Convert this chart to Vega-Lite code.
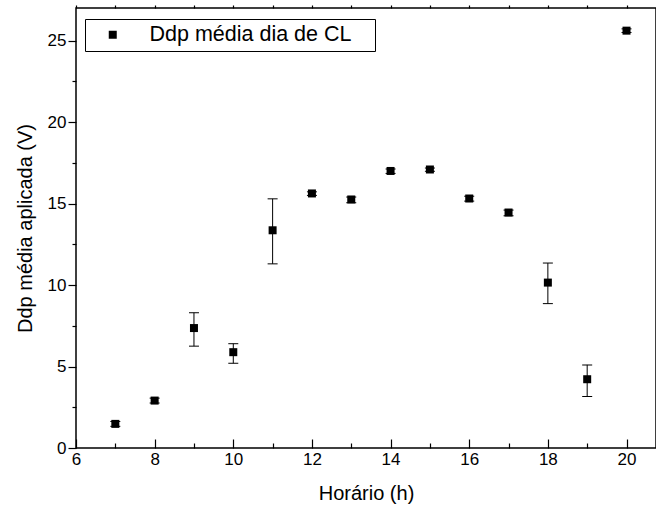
{
  "$schema": "https://vega.github.io/schema/vega-lite/v6.json",
  "width": 580,
  "height": 440,
  "autosize": "none",
  "padding": {"left": 76, "top": 8, "right": 0, "bottom": 68},
  "background": "white",
  "config": {
    "font": "Liberation Sans",
    "view": {"stroke": "black", "strokeWidth": 1.5},
    "axis": {"grid": false, "domain": false, "labelFont": "Liberation Sans", "titleFont": "Liberation Sans", "labelColor": "black", "titleColor": "black", "tickColor": "black", "tickWidth": 1.2, "labelFontSize": 17, "titleFontSize": 20, "titleFontWeight": "normal"}
  },
  "data": {
    "values": [
      {"hour": 7, "v": 1.48, "lo": 1.33, "hi": 1.63, "series": "Ddp média dia de CL"},
      {"hour": 8, "v": 2.91, "lo": 2.76, "hi": 3.06, "series": "Ddp média dia de CL"},
      {"hour": 9, "v": 7.36, "lo": 6.25, "hi": 8.30, "series": "Ddp média dia de CL"},
      {"hour": 10, "v": 5.88, "lo": 5.20, "hi": 6.40, "series": "Ddp média dia de CL"},
      {"hour": 11, "v": 13.36, "lo": 11.30, "hi": 15.29, "series": "Ddp média dia de CL"},
      {"hour": 12, "v": 15.62, "lo": 15.50, "hi": 15.72, "series": "Ddp média dia de CL"},
      {"hour": 13, "v": 15.25, "lo": 15.05, "hi": 15.40, "series": "Ddp média dia de CL"},
      {"hour": 14, "v": 17.00, "lo": 16.85, "hi": 17.12, "series": "Ddp média dia de CL"},
      {"hour": 15, "v": 17.09, "lo": 16.98, "hi": 17.18, "series": "Ddp média dia de CL"},
      {"hour": 16, "v": 15.31, "lo": 15.15, "hi": 15.45, "series": "Ddp média dia de CL"},
      {"hour": 17, "v": 14.45, "lo": 14.25, "hi": 14.60, "series": "Ddp média dia de CL"},
      {"hour": 18, "v": 10.15, "lo": 8.86, "hi": 11.35, "series": "Ddp média dia de CL"},
      {"hour": 19, "v": 4.22, "lo": 3.16, "hi": 5.10, "series": "Ddp média dia de CL"},
      {"hour": 20, "v": 25.61, "lo": 25.50, "hi": 25.72, "series": "Ddp média dia de CL"}
    ]
  },
  "layer": [
    {
      "mark": {"type": "errorbar", "ticks": {"size": 10, "color": "black", "opacity": 1}, "rule": {"color": "black", "opacity": 1}, "color": "black", "opacity": 1, "thickness": 1},
      "encoding": {
        "x": {
          "field": "hour", "type": "quantitative",
          "scale": {"domain": [6, 20.75], "nice": false, "zero": false},
          "axis": {
            "orient": "bottom",
            "title": "Horário (h)",
            "values": [6, 7, 8, 9, 10, 11, 12, 13, 14, 15, 16, 17, 18, 19, 20],
            "labelExpr": "datum.value % 2 === 0 ? datum.label : ''",
            "tickSize": {"condition": {"test": "datum.value % 2 === 0", "value": -9}, "value": -5},
            "labelPadding": 12,
            "titlePadding": 12,
            "labelFlush": false,
            "labelOverlap": false
          }
        },
        "y": {
          "field": "lo", "type": "quantitative",
          "scale": {"domain": [0, 27], "nice": false},
          "axis": {
            "orient": "left",
            "title": "Ddp média aplicada (V)",
            "values": [0, 2.5, 5, 7.5, 10, 12.5, 15, 17.5, 20, 22.5, 25],
            "labelExpr": "datum.value % 5 === 0 ? datum.label : ''",
            "tickSize": {"condition": {"test": "datum.value % 5 === 0", "value": 8}, "value": 4},
            "labelPadding": 2,
            "titlePadding": 12,
            "labelOverlap": false
          }
        },
        "y2": {"field": "hi"}
      }
    },
    {
      "mark": {"type": "point", "shape": "square", "filled": true, "size": 64, "color": "black", "opacity": 1},
      "encoding": {
        "x": {
          "field": "hour", "type": "quantitative",
          "axis": {
            "orient": "top", "title": null, "labels": false,
            "values": [6, 7, 8, 9, 10, 11, 12, 13, 14, 15, 16, 17, 18, 19, 20],
            "tickSize": 3
          }
        },
        "y": {"field": "v", "type": "quantitative", "axis": null},
        "shape": {
          "field": "series", "type": "nominal",
          "scale": {"range": ["square"]},
          "legend": {
            "title": "\u00a0",
            "titleOrient": "right",
            "titlePadding": 19,
            "titleFontSize": 10,
            "orient": "none",
            "legendX": 9,
            "legendY": 11,
            "strokeColor": "black",
            "fillColor": "white",
            "padding": 5,
            "symbolSize": 64,
            "symbolType": "square",
            "symbolFillColor": "black",
            "symbolStrokeColor": "black",
            "symbolOffset": 12,
            "labelOffset": 26,
            "labelFontSize": 21.5,
            "labelFont": "Liberation Sans",
            "labelColor": "black",
            "labelLimit": 400
          }
        }
      }
    }
  ],
  "resolve": {"axis": {"x": "independent", "y": "independent"}}
}
